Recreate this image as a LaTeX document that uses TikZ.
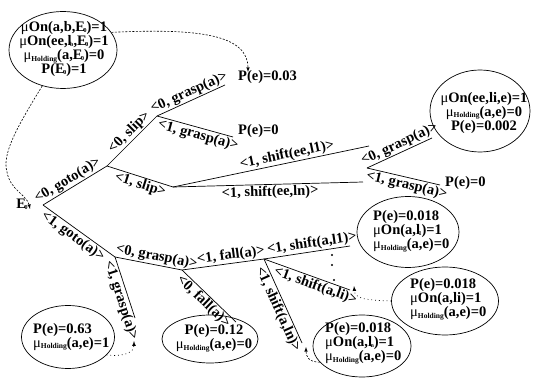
\documentclass[tikz,border=0pt]{standalone}
\usepackage{fontspec}
\setmainfont{Liberation Serif}
\usepackage{tikz}
\usetikzlibrary{arrows,shapes.geometric}
\newcommand{\muon}{{\mdseries μ}On}
\newcommand{\muhold}{{\mdseries μ}\raisebox{-1.5pt}{\fontsize{7.5}{8}\selectfont Holding}}
\newcommand{\sbs}[1]{\kern-1.5pt\raisebox{-1pt}{\fontsize{6}{6}\selectfont #1}}
\begin{document}
\begin{tikzpicture}[x=1pt, y=-1pt,
  txt/.style={font=\fontsize{14.5}{12.5}\selectfont\bfseries, inner sep=0pt},
  lab/.style={font=\fontsize{14.5}{14}\selectfont\bfseries, inner sep=1pt, sloped},
  oval/.style={draw, ellipse, line width=0.7pt, inner sep=0pt},
  branch/.style={line width=0.7pt},
  link/.style={line width=0.6pt, dash pattern=on 2pt off 1.5pt, -latex},
  dots/.style={line width=0.7pt, dash pattern=on 0.8pt off 3pt, -latex}]
\useasboundingbox (0,0) rectangle (533,382);

\node [oval, minimum width=108pt, minimum height=77pt] (init) at (63,50) {};
\node [txt, align=center] (initText) at (64,49) {\muon(a,b,E\sbs{0})=1\\ \muon(ee,l\sbs{b},E\sbs{0})=1\\ \muhold(a,E\sbs{0})=0\\ P(E\sbs{0})=1};
\node [oval, minimum width=100pt, minimum height=82pt] (oLi) at (480,111) {};
\node [txt, align=center] (oLiText) at (484,113) {\muon(ee,li,e)=1\\ \muhold(a,e)=0\\ P(e)=0.002};
\node [oval, minimum width=102pt, minimum height=71pt] (oA) at (408,232) {};
\node [txt, align=left, anchor=north west] (oAText) at (373,210) {P(e)=0.018\\ \muon(a,l\sbs{1})=1\\ \muhold(a,e)=0};
\node [oval, minimum width=107pt, minimum height=68pt] (oB) at (445,301) {};
\node [txt, align=left, anchor=north west] (oBText) at (410,278) {P(e)=0.018\\ \muon(a,li)=1\\ \muhold(a,e)=0};
\node [oval, minimum width=98pt, minimum height=62pt] (oC) at (362,346) {};
\node [txt, align=left, anchor=north west] (oCText) at (325,322) {P(e)=0.018\\ \muon(a,l\sbs{n})=1\\ \muhold(a,e)=0};
\node [oval, minimum width=93pt, minimum height=63pt] (oHold) at (68,337) {};
\node [txt, align=left, anchor=north west] (oHoldText) at (33,323) {P(e)=0.63\\ \muhold(a,e)=1};
\node [oval, minimum width=96pt, minimum height=48pt] (oFall) at (210,339) {};
\node [txt, align=center] (oFallText) at (214,338) {P(e)=0.12\\ \muhold(a,e)=0};

\node [txt, anchor=west] (p003) at (238,77) {P(e)=0.03};
\node [txt, anchor=west] (p0a) at (238,131) {P(e)=0};
\node [txt, anchor=west] (p0b) at (445,183) {P(e)=0};
\node [txt] (e0) at (22,204) {E\sbs{0}};

\coordinate (r) at (43,205);
\coordinate (a) at (107,166);
\coordinate (b) at (157,116);
\coordinate (b1) at (225,85);
\coordinate (b2) at (233,137);
\coordinate (c) at (173,187);
\coordinate (c1) at (369,146);
\coordinate (c2) at (363,182);
\coordinate (d) at (367,168);
\coordinate (d1) at (432,138);
\coordinate (d2) at (440,185);
\coordinate (f) at (115,257);
\coordinate (f1) at (135,318);
\coordinate (g) at (182,270);
\coordinate (g1) at (236,322);
\coordinate (h) at (264,259);
\coordinate (h1) at (350,246);
\coordinate (h2) at (350,290);
\coordinate (h3) at (302,343);

\draw [branch] (r) -- node [lab, above, pos=0.45] {<0, goto(a)>} (a);
\draw [branch] (a) -- node [lab, above, pos=0.56] {<0, slip>} (b);
\draw [branch] (b) -- node [lab, above, pos=0.52] {<0, grasp(a)>} (b1);
\draw [branch] (b) -- node [lab, below, pos=0.57] {<1, grasp(a)>} (b2);
\draw [branch] (a) -- node [lab, below, pos=0.54] {<1, slip>} (c);
\draw [branch] (c) -- node [lab, above, pos=0.59] {<1, shift(ee,l1)>} (c1);
\draw [branch] (c) -- node [lab, below, pos=0.51] {<1, shift(ee,ln)>} (c2);
\draw [branch] (d) -- node [lab, above, pos=0.55] {<0, grasp(a)>} (d1);
\draw [branch] (d) -- node [lab, below, pos=0.57] {<1, grasp(a)>} (d2);
\draw [branch] (r) -- node [lab, below, pos=0.48] {<1, goto(a)>} (f);
\draw [branch] (f) -- node [lab, above, pos=0.6] {<0, grasp(a)>} (g);
\draw [branch] (g) -- node [lab, above, pos=0.61] {<1, fall(a)>} (h);
\draw [branch] (g) -- node [lab, below, pos=0.5] {<0, fall(a)>} (g1);
\draw [branch] (f) -- node [lab, below, pos=0.67] {<1, grasp(a)>} (f1);
\draw [branch] (h) -- node [lab, above, pos=0.57] {<1, shift(a,l1)>} (h1);
\draw [branch] (h) -- node [lab, below, pos=0.63] {<1, shift(a,li)>} (h2);
\draw [branch] (h) -- node [lab, below, pos=0.56] {<1, shift(a,ln)>} (h3);

\foreach \x/\y in {332/255, 332/265, 334/280}
  \fill (\x,\y) circle (1.1pt);

\coordinate (t003) at (248,72);
\coordinate (te0) at (30,209);
\coordinate (t063) at (134,341);
\coordinate (tLi) at (354,286);
\coordinate (tLn) at (306,347);

\draw [link] (init.20) .. controls (200,28) and (248,35) .. (t003);
\draw [link] (init.240) .. controls (15,130) and (2,155) .. (7,172) .. controls (10,190) and (27,195) .. (te0);
\draw [dots] (oHold.-25) .. controls (125,357) and (134,352) .. (t063);
\draw [dots] (oB.west) .. controls (362,300) and (355,298) .. (tLi);
\draw [link] (oC.201) .. controls (308,362) and (306,356) .. (tLn);
\end{tikzpicture}
\end{document}
